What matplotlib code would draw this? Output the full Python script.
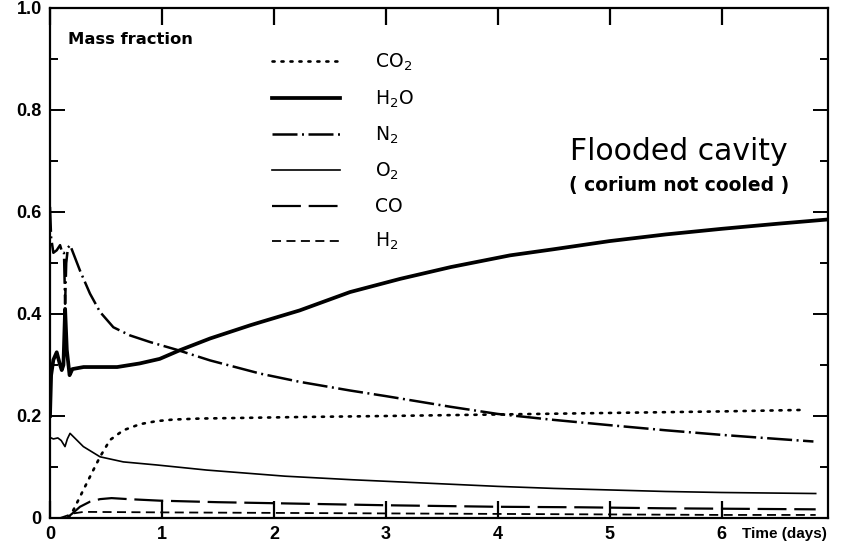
import matplotlib
matplotlib.use("Agg")
import matplotlib.pyplot as plt
from matplotlib.ticker import MultipleLocator, FixedLocator

plt.rcParams['font.family'] = ['DejaVu Sans']
plt.rcParams['mathtext.default'] = 'regular'

# ---- data ----
t_co2 = [0.164, 0.21, 0.298, 0.387, 0.447, 0.536, 0.655, 0.804, 0.953, 1.1, 1.34, 2.23, 3.0,
         4.0, 5.0, 6.0, 6.75]
co2 = [0.0, 0.016, 0.055, 0.094, 0.12, 0.153, 0.172, 0.184, 0.19, 0.193, 0.195, 0.198, 0.2,
       0.203, 0.206, 0.209, 0.212]

t_h2o = [0, 0.01, 0.03, 0.06, 0.09, 0.105, 0.12, 0.135, 0.15, 0.175, 0.2, 0.3, 0.45, 0.6,
         0.8, 0.98, 1.16, 1.43, 1.79, 1.88, 2.23, 2.68, 3.13, 3.58, 4.11, 4.5, 5.0, 5.5,
         6.0, 6.5, 6.93]
h2o = [0.20, 0.28, 0.31, 0.325, 0.30, 0.29, 0.30, 0.41, 0.33, 0.28, 0.292, 0.296, 0.296, 0.296,
       0.303, 0.312, 0.329, 0.352, 0.378, 0.384, 0.407, 0.443, 0.469, 0.492, 0.515, 0.527,
       0.543, 0.556, 0.567, 0.577, 0.585]

t_n2 = [0, 0.01, 0.03, 0.06, 0.09, 0.11, 0.125, 0.135, 0.145, 0.16, 0.18, 0.268, 0.357, 0.447,
        0.566, 0.715, 0.894, 1.13, 1.43, 1.88, 2.23, 2.68, 3.0, 3.58, 4.0, 4.47, 5.0, 5.5,
        6.0, 6.5, 6.82]
n2 = [0.61, 0.55, 0.52, 0.525, 0.535, 0.52, 0.52, 0.42, 0.50, 0.53, 0.535, 0.485, 0.44, 0.404,
      0.374, 0.358, 0.345, 0.33, 0.309, 0.283, 0.267, 0.25, 0.239, 0.218, 0.204, 0.193,
      0.182, 0.172, 0.163, 0.155, 0.15]

t_o2 = [0, 0.03, 0.07, 0.1, 0.134, 0.155, 0.179, 0.298, 0.447, 0.655, 0.953, 1.4, 2.1, 2.7,
        3.4, 4.0, 4.5, 5.0, 5.5, 6.0, 6.84]
o2 = [0.158, 0.155, 0.157, 0.152, 0.14, 0.155, 0.166, 0.14, 0.12, 0.11, 0.104, 0.094, 0.082,
      0.075, 0.068, 0.062, 0.058, 0.055, 0.052, 0.05, 0.048]

t_co = [0.15, 0.206, 0.268, 0.357, 0.447, 0.55, 0.7, 0.98, 1.5, 2.0, 3.0, 4.0, 4.74, 5.5, 6.84]
co = [0.0, 0.01, 0.022, 0.032, 0.037, 0.039, 0.037, 0.034, 0.031, 0.029, 0.025, 0.022, 0.021,
      0.019, 0.017]

t_h2 = [0.09, 0.21, 0.3, 1.0, 2.0, 3.0, 4.0, 5.0, 6.0, 6.84]
h2 = [0.0, 0.009, 0.012, 0.011, 0.01, 0.009, 0.008, 0.007, 0.006, 0.006]

x_ticks = [0, 1, 2, 3, 4, 5, 6]
x_tick_labels = ['0', '1', '2', '3', '4', '5', '6']
y_ticks = [0, 0.2, 0.4, 0.6, 0.8, 1.0]
y_tick_labels = ['0', '0.2', '0.4', '0.6', '0.8', '1.0']

label_font = ['Liberation Sans', 'DejaVu Sans']

# ---- figure ----
fig = plt.figure(figsize=(8.63, 5.48), dpi=100)
ax = fig.add_axes([50 / 863, 30 / 548, 778 / 863, 510 / 548])

ax.plot(t_co2, co2, color='black', lw=1.9, linestyle=(0, (0.8, 2.6)),
        dash_capstyle='round', label='CO$_2$')
ax.plot(t_h2o, h2o, color='black', lw=2.7, label='H$_2$O')
ax.plot(t_n2, n2, color='black', lw=1.8, linestyle=(0, (10, 1.8, 0.8, 1.8)), label='N$_2$')
ax.plot(t_o2, o2, color='black', lw=1.2, label='O$_2$')
ax.plot(t_co, co, color='black', lw=1.6, linestyle=(0, (13, 3.5)), label='CO')
ax.plot(t_h2, h2, color='black', lw=1.3, linestyle=(0, (5, 3)), label='H$_2$')

ax.set_xlim(0, 6.95)
ax.set_ylim(0, 1.0)

for s in ax.spines.values():
    s.set_linewidth(1.6)

ax.xaxis.set_major_locator(FixedLocator(x_ticks))
ax.set_xticklabels(x_tick_labels)
ax.yaxis.set_major_locator(FixedLocator(y_ticks))
ax.set_yticklabels(y_tick_labels)
ax.yaxis.set_minor_locator(MultipleLocator(0.1))

ax.tick_params(axis='x', which='major', direction='in', length=12, width=1.6,
               top=True, bottom=True, pad=6, labelsize=13)
ax.tick_params(axis='y', which='major', direction='in', length=11, width=1.4,
               left=True, right=True, pad=6, labelsize=13)
ax.tick_params(axis='y', which='minor', direction='in', length=6, width=1.4,
               left=True, right=True)
for lab in ax.get_xticklabels() + ax.get_yticklabels():
    lab.set_fontweight('bold')
    lab.set_family(label_font)

ax.text(6.18, -0.017, 'Time (days)', transform=ax.transData, ha='left', va='top',
        fontsize=11, fontweight='bold', family=label_font, clip_on=False)

ax.text(18 / 778, 1 - 32 / 510, 'Mass fraction', transform=ax.transAxes,
        ha='left', va='center', fontsize=11.8, fontweight='bold')

ax.text(629 / 778, 1 - 143 / 510, 'Flooded cavity', transform=ax.transAxes,
        ha='center', va='center', fontsize=21.5)
ax.text(629 / 778, 1 - 177 / 510, '( corium not cooled )', transform=ax.transAxes,
        ha='center', va='center', fontsize=13.5, fontweight='bold')

leg = ax.legend(loc='upper left', bbox_to_anchor=(222 / 778, 1 - 44 / 510),
                frameon=False, fontsize=13.5, handlelength=3.6, handletextpad=1.9,
                labelspacing=0.8, borderaxespad=0, borderpad=0)

fig.savefig('out.png', dpi=100)
